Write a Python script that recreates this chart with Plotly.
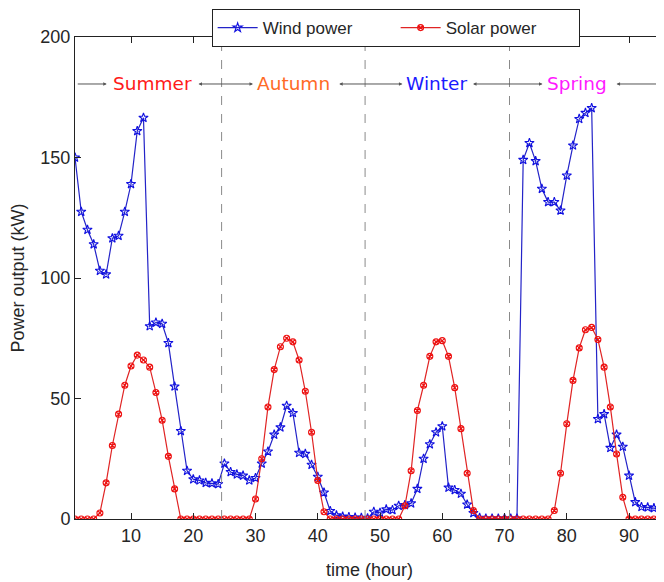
import plotly.graph_objects as go

# ---------------- data ----------------
hours = list(range(1, 97))

wind_power = [
    150, 127.5, 120, 114, 103, 101.5, 116.5, 117.5, 127.5, 139, 161, 166.5,   # 1-12
    80, 81.5, 81, 73, 55, 36.5, 20, 16.5, 16, 15, 14.8, 14.5,                 # 13-24
    23, 19.5, 18.5, 18, 16, 17, 23, 28, 35, 38, 47, 44,                       # 25-36
    27.5, 27, 22.5, 17.5, 11, 3.3, 1.5, 1, 0.8, 0.6, 0.5, 0.3,                # 37-48
    3, 2.6, 4, 3.7, 5.5, 5.8, 6.5, 12.5, 25, 31, 36, 38.5,                    # 49-60
    13, 12, 10.5, 6, 2.5, 0.5, 0.2, 0.2, 0.2, 0.2, 0.2, 0.2,                  # 61-72
    149, 156, 148.5, 137, 131.5, 131.5, 128, 142.5, 155, 166, 168.5, 170.5,   # 73-84
    41.5, 43.5, 29.5, 35, 30, 18, 7, 5, 4.8, 4.5, 4.2, 4,                     # 85-96
]

solar_power = [
    0, 0, 0, 0, 2.5, 15, 30.5, 43.5, 55.5, 63.5, 68, 66,                      # 1-12
    63, 52.5, 41, 26, 12.5, 0, 0, 0, 0, 0, 0, 0,                              # 13-24
    0, 0, 0, 0, 0, 8.3, 25, 46.5, 62, 71.5, 75, 73.5,                         # 25-36
    66, 53, 36, 16, 3, 0, 0, 0, 0, 0, 0, 0,                                   # 37-48
    0, 0, 0, 0, 0, 5.5, 20, 45, 55.5, 67.5, 73.5, 74,                         # 49-60
    67.5, 54.5, 37.5, 19, 3.5, 0, 0, 0, 0, 0, 0, 0,                           # 61-72
    0, 0, 0, 0, 0, 3.5, 19, 39.5, 57.5, 71, 78.5, 79.5,                       # 73-84
    74.5, 63, 46.5, 27, 9, 0, 0, 0, 0, 0, 0, 0,                               # 85-96
]

x_ticks = [10, 20, 30, 40, 50, 60, 70, 80, 90]
y_ticks = [0, 50, 100, 150, 200]

season_names = ["Summer", "Autumn", "Winter", "Spring"]
season_colors = ["#ff1a1a", "#ff6a26", "#1a1aff", "#ff1aff"]
season_label_x = [13.5, 36.1, 59.1, 81.6]
season_label_y = 180.5
season_boundaries = [24.55, 47.6, 70.8]
# arrow segments: (tail x, head x, double headed?)
arrow_segments = [
    (1.2, 6.1, False),
    (20.6, 29.6, True),
    (43.2, 53.6, True),
    (64.7, 76.1, True),
    (96.0, 88.0, False),
]

X_RANGE = [1, 95.62]
Y_RANGE = [0, 200]

# ---------------- figure ----------------
fig = go.Figure()

fig.add_trace(go.Scatter(
    x=hours, y=wind_power, name="Wind power", mode="lines+markers",
    line=dict(color="#2323c8", width=1.2),
    marker=dict(symbol="star-open", size=7, color="#1010e0", line=dict(width=1.1)),
))
fig.add_trace(go.Scatter(
    x=hours, y=solar_power, name="Solar power", mode="lines+markers",
    line=dict(color="#e02424", width=1.2),
    marker=dict(symbol="circle-x-open", size=6, color="#ee1010", line=dict(width=1.1)),
))
# empty trace to carry the right-side tick axis
fig.add_trace(go.Scatter(x=[None], y=[None], yaxis="y2", showlegend=False,
                         hoverinfo="skip"))

for xb in season_boundaries:
    fig.add_shape(type="line", xref="x", yref="y", x0=xb, x1=xb,
                  y0=Y_RANGE[0], y1=Y_RANGE[1],
                  line=dict(color="#8a8a8a", width=1, dash="dash"))

for name, col, xc in zip(season_names, season_colors, season_label_x):
    fig.add_annotation(x=xc, y=season_label_y, xref="x", yref="y", text=name,
                       showarrow=False,
                       font=dict(family="DejaVu Sans", size=18.5, color=col))

for tail, head, both in arrow_segments:
    fig.add_annotation(x=head, y=season_label_y, ax=tail, ay=season_label_y,
                       xref="x", yref="y", axref="x", ayref="y", text="",
                       showarrow=True, arrowhead=2, arrowsize=0.7, arrowwidth=1,
                       arrowcolor="#555555", standoff=0, startstandoff=0,
                       arrowside="end+start" if both else "end",
                       startarrowhead=2, startarrowsize=0.7)

font_main = "Liberation Sans, Arial, sans-serif"

# the page body adds an 8px offset, so the figure is sized to compensate
fig.update_layout(
    width=656, height=574,
    margin=dict(l=67, r=0, t=29, b=63, autoexpand=False),
    paper_bgcolor="white", plot_bgcolor="white",
    font=dict(family=font_main, size=18, color="#262626"),
    showlegend=True,
    legend=dict(
        orientation="h", x=0.232, y=1.058, xanchor="left", yanchor="top",
        bgcolor="white", bordercolor="#222222", borderwidth=1,
        font=dict(family=font_main, size=17, color="#262626"),
        tracegroupgap=0, itemwidth=40, entrywidth=128, entrywidthmode="pixels",
    ),
    xaxis=dict(
        range=X_RANGE, tickvals=x_ticks, ticks="inside", ticklen=6,
        tickcolor="#222", showline=True, linecolor="#222", linewidth=1,
        mirror="ticks", showgrid=False, zeroline=False,
        title=dict(text="time (hour)", font=dict(size=18), standoff=18),
    ),
    yaxis=dict(
        range=Y_RANGE, tickvals=y_ticks, ticks="inside", ticklen=6,
        tickcolor="#222", showline=True, linecolor="#222", linewidth=1,
        mirror=False, showgrid=False, zeroline=False,
        title=dict(text="Power output (kW)", font=dict(size=18), standoff=14),
    ),
    yaxis2=dict(
        range=Y_RANGE, tickvals=y_ticks, ticks="inside", ticklen=6,
        tickcolor="#222", showline=False, showticklabels=False,
        overlaying="y", side="right", showgrid=False, zeroline=False,
    ),
)

fig.write_html("out.html")
